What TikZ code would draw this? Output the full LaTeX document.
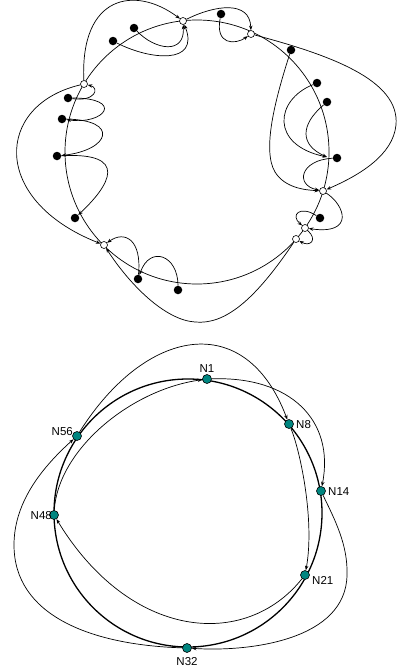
\documentclass[tikz,border=0pt]{standalone}
\usepackage{fontspec}
\setmainfont{Liberation Sans}
\usetikzlibrary{arrows.meta}
\definecolor{peerteal}{RGB}{0,134,128}
\begin{document}
\begin{tikzpicture}[x=1pt,y=-1pt,
  wire/.style={line width=0.7pt},
  ringline/.style={line width=1.3pt},
  tip/.style={-{Stealth[length=4.6pt,width=3.4pt]}},
  bdot/.style={circle,fill=black,inner sep=0,minimum size=8.5pt},
  odot/.style={circle,draw,fill=white,line width=0.6pt,inner sep=0,minimum size=7pt},
  peer/.style={circle,draw,fill=peerteal,line width=0.6pt,inner sep=0,minimum size=9pt},
  lbl/.style={inner sep=0,font=\fontsize{11.5}{13}\selectfont}]
\useasboundingbox (0,0) rectangle (399,672);

% ---------- upper ring ----------
\draw[wire] (197,152) circle[radius=132pt];

\node[odot] (o1) at (84,84) {};
\node[odot] (o2) at (183,21) {};
\node[odot] (o3) at (251,34) {};
\node[odot] (o4) at (323,191) {};
\node[odot] (o5) at (305,228) {};
\node[odot] (o6) at (296,239) {};
\node[odot] (o7) at (104,245) {};

\node[bdot] (b1) at (113,41) {};
\node[bdot] (b2) at (134,28) {};
\node[bdot] (b3) at (221,14) {};
\node[bdot] (b4) at (291,50) {};
\node[bdot] (b5) at (317,83) {};
\node[bdot] (b6) at (327,102) {};
\node[bdot] (b7) at (337,158) {};
\node[bdot] (b8) at (320,218) {};
\node[bdot] (b9) at (68,98) {};
\node[bdot] (b10) at (62,119) {};
\node[bdot] (b11) at (57,156) {};
\node[bdot] (b12) at (75,218) {};
\node[bdot] (b13) at (138,279) {};
\node[bdot] (b14) at (178,290) {};
\coordinate (c1) at (327,157);

\draw[wire,tip] (o1) .. controls (80,-5) and (135,-15) .. (o2);
\draw[wire,tip] (b2) .. controls (155,50) and (185,55) .. (o2);
\draw[wire,tip] (b1) .. controls (150,60) and (200,65) .. (o2);
\draw[wire,tip] (o2) .. controls (215,5) and (250,0) .. (o3);
\draw[wire,tip] (b3) .. controls (215,45) and (235,45) .. (o3);
\draw[wire,tip] (o3) .. controls (330,55) and (400,80) .. (396,125)
                     .. controls (393,155) and (360,175) .. (o4);
\draw[wire,tip] (b4) .. controls (275,100) and (262,150) .. (275,172)
                     .. controls (285,188) and (305,190) .. (o4);
\draw[wire,tip] (b5) .. controls (275,100) and (270,145) .. (c1);
\draw[wire,tip] (b6) .. controls (300,125) and (300,145) .. (c1);
\draw[wire,tip] (b7) .. controls (300,160) and (295,185) .. (o4);
\draw[wire,tip] (o4) .. controls (345,205) and (355,235) .. (o5);
\draw[wire,tip] (b8) .. controls (300,205) and (290,215) .. (o5);
\draw[wire,tip] (o5) .. controls (318,240) and (310,247) .. (o6);
\draw[wire,tip] (o6) .. controls (255,300) and (225,325) .. (195,322)
                     .. controls (165,320) and (130,285) .. (o7);
\draw[wire,tip] (b13) .. controls (142,240) and (125,230) .. (o7);
\draw[wire,tip] (b14) .. controls (178,255) and (150,245) .. (b13);
\draw[wire,tip] (b11) .. controls (130,152) and (110,185) .. (b12);
\draw[wire,tip] (b10) .. controls (120,120) and (110,150) .. (b11);
\draw[wire,tip] (b9) .. controls (125,98) and (105,125) .. (b10);
\draw[wire,tip] (b9) .. controls (95,102) and (100,88) .. (o1);
\draw[wire,tip] (o1) .. controls (-5,105) and (-10,200) .. (o7);

% ---------- lower ring ----------
\draw[ringline] (188,513) circle[radius=134pt];

\node[peer] (n1) at (207,379) {};
\node[peer] (n8) at (289,424) {};
\node[peer] (n14) at (321,491) {};
\node[peer] (n21) at (305,575) {};
\node[peer] (n32) at (187,648) {};
\node[peer] (n48) at (54,515) {};
\node[peer] (n56) at (77,436) {};

\node[lbl] at (207,369) {N1};
\node[lbl,anchor=west] at (296,425) {N8};
\node[lbl,anchor=west] at (328,492) {N14};
\node[lbl,anchor=west] at (312,580) {N21};
\node[lbl] at (187,662) {N32};
\node[lbl,anchor=east] at (52,516) {N48};
\node[lbl,anchor=east] at (73,432) {N56};

\draw[wire,tip] (n1) .. controls (290,376) and (335,420) .. (n14);
\draw[wire,tip] (n56) .. controls (145,328) and (245,308) .. (n8);
\draw[wire,tip] (n48) .. controls (58,450) and (130,390) .. (n1);
\draw[wire,tip] (n32) .. controls (90,645) and (14,615) .. (14,545)
                      .. controls (14,500) and (45,465) .. (n56);
\draw[wire,tip] (n21) .. controls (245,650) and (130,640) .. (n48);
\draw[wire,tip] (n8) .. controls (300,450) and (315,520) .. (n21);
\draw[wire,tip] (n14) .. controls (335,520) and (348,545) .. (347,575)
                      .. controls (346,640) and (250,652) .. (n32);
\end{tikzpicture}
\end{document}
